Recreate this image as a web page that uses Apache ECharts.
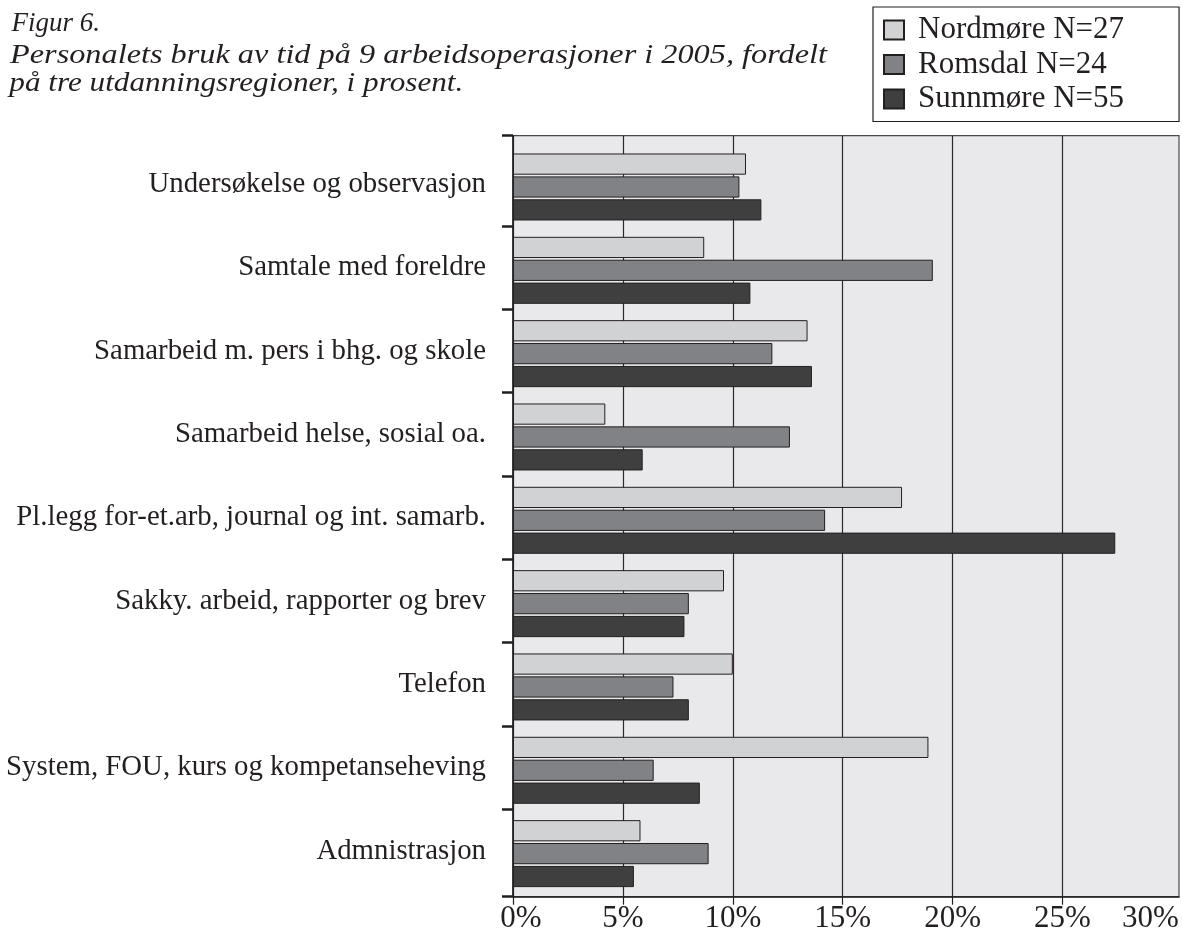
<!DOCTYPE html>
<html>
<head>
<meta charset="utf-8">
<script src="https://cdn.jsdelivr.net/npm/echarts@6/dist/echarts.min.js"></script>
<style>html,body{margin:0;padding:0;background:#fff}#c{width:1182px;height:935px}</style>
</head>
<body>
<div id="c"></div>
<script>
const titleLines = ['Figur 6.', 'Personalets bruk av tid på 9 arbeidsoperasjoner i 2005, fordelt', 'på tre utdanningsregioner, i prosent.'];
const categories = ['Undersøkelse og observasjon', 'Samtale med foreldre', 'Samarbeid m. pers i bhg. og skole', 'Samarbeid helse, sosial oa.', 'Pl.legg for-et.arb, journal og int. samarb.', 'Sakky. arbeid, rapporter og brev', 'Telefon', 'System, FOU, kurs og kompetanseheving', 'Admnistrasjon'];
const seriesNames = ['Nordmøre N=27', 'Romsdal N=24', 'Sunnmøre N=55'];
const nordmore = [10.6, 8.7, 13.4, 4.2, 17.7, 9.6, 10.0, 18.9, 5.8];
const romsdal  = [10.3, 19.1, 11.8, 12.6, 14.2, 8.0, 7.3, 6.4, 8.9];
const sunnmore = [11.3, 10.8, 13.6, 5.9, 27.4, 7.8, 8.0, 8.5, 5.5];
const xTicks = [0, 5, 10, 15, 20, 25, 30];

const INK = '#231f20';
const FONT = 'Liberation Serif';
const colors = ['#d1d2d4', '#808285', '#3f3f40'];

// geometry of the plot frame
const frameTop = 135.7, frameBottom = 896.7, firstTick = 226, band = 83.33;
const yMin = 1 - (firstTick - frameTop) / band;
const yMax = 1 + (frameBottom - firstTick) / band;
const yTickVals = [yMin, 1, 2, 3, 4, 5, 6, 7, 8, yMax];
const yLabelVals = categories.map((c, i) => i + 0.5);
const barTop = firstTick - band + 2.65;
const barBottom = barTop + 9 * band;

// title measurement for horizontal stretch
const ctx = document.createElement('canvas').getContext('2d');
const titleFont = 'italic 27px "' + FONT + '"';
ctx.font = titleFont;
const titleTargets = [null, 817, 454];
const titleY = [23.5, 56, 84];
const titleX = [11.5, 10, 9.3];
const graphics = titleLines.map((t, i) => {
  const w = ctx.measureText(t).width;
  const sx = titleTargets[i] ? titleTargets[i] / w : 1;
  return {
    type: 'text', x: titleX[i], y: titleY[i], scaleX: sx,
    style: { text: t, font: titleFont, fill: INK, verticalAlign: 'middle', x: 0, y: 0 }
  };
});

const chart = echarts.init(document.getElementById('c'), null, { renderer: 'canvas' });
const data = [nordmore, romsdal, sunnmore];

chart.setOption({
  animation: false,
  textStyle: { fontFamily: FONT, color: INK },
  graphic: graphics,
  legend: {
    orient: 'vertical', left: 873, top: 7,
    padding: [7.5, 55, 7, 10],
    itemWidth: 20, itemHeight: 19, itemGap: 3.5,
    borderColor: INK, borderWidth: 1.2,
    selectedMode: false,
    icon: 'rect',
    data: seriesNames,
    textStyle: { fontFamily: FONT, fontSize: 31, color: INK, lineHeight: 31, padding: [0, 0, 0, 9] }
  },
  grid: [
    { left: 513, right: 3, top: frameTop, bottom: 935 - frameBottom, show: true,
      backgroundColor: '#e9e9eb', borderColor: '#4a4a4a', borderWidth: 1.2, containLabel: false },
    { left: 513, right: 3, top: barTop, bottom: 935 - barBottom, containLabel: false }
  ],
  xAxis: [
    { type: 'value', gridIndex: 0, min: 0, max: 30.3, interval: 5, position: 'bottom',
      axisLine: { show: true, onZero: false, lineStyle: { color: INK, width: 1.5 } },
      axisTick: { show: true, length: 8, lineStyle: { color: INK, width: 1.2 }, customValues: [0, 5, 10, 15, 20, 25] },
      splitLine: { show: true, lineStyle: { color: ['#2a2a2a', '#2a2a2a', '#2a2a2a', '#2a2a2a', '#2a2a2a', '#2a2a2a', 'rgba(0,0,0,0)', 'rgba(0,0,0,0)'], width: 1.2 } },
      axisLabel: {
        customValues: xTicks, margin: 7, fontFamily: FONT, fontSize: 31, color: INK,
        formatter: v => v === 0 ? '{a|0%}' : (v === 30 ? '{b|30%}' : v + '%'),
        rich: {
          a: { fontFamily: FONT, fontSize: 31, color: INK, padding: [0, 0, 0, 16] },
          b: { fontFamily: FONT, fontSize: 31, color: INK, padding: [0, 44, 0, 0] }
        }
      }
    },
    { type: 'value', gridIndex: 1, min: 0, max: 30.3, show: false }
  ],
  yAxis: [
    { type: 'value', gridIndex: 0, inverse: true, min: yMin, max: yMax, position: 'left',
      axisLine: { show: true, onZero: false, lineStyle: { color: INK, width: 1.5 } },
      axisTick: { show: true, length: 11, lineStyle: { color: INK, width: 2.5 }, customValues: yTickVals },
      splitLine: { show: false },
      axisLabel: {
        customValues: yLabelVals, margin: 27, fontFamily: FONT, fontSize: 28.8, color: INK,
        formatter: v => categories[Math.round(v - 0.5)] || ''
      }
    },
    { type: 'category', gridIndex: 1, inverse: true, data: categories, show: false }
  ],
  series: seriesNames.map((n, i) => ({
    name: n, type: 'bar', xAxisIndex: 1, yAxisIndex: 1,
    data: data[i],
    barCategoryGap: '19.6%', barGap: '8%',
    itemStyle: { color: colors[i], borderColor: INK, borderWidth: 1 }
  }))
});
</script>
</body>
</html>
